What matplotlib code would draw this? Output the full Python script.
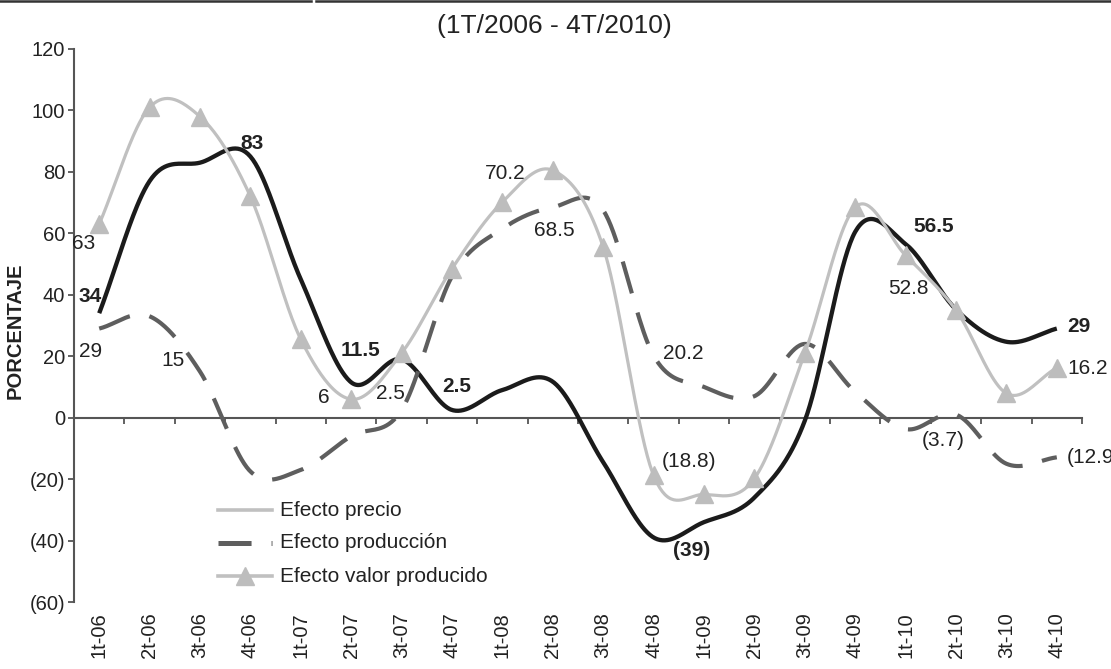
import numpy as np
import matplotlib
matplotlib.use("Agg")
import matplotlib.pyplot as plt
from matplotlib.lines import Line2D
from matplotlib.ticker import FuncFormatter, FixedLocator
from matplotlib.transforms import blended_transform_factory

plt.rcParams['font.family'] = ['Liberation Sans', 'DejaVu Sans']
plt.rcParams['lines.scale_dashes'] = False

# ---------------- data ----------------
categories = ['1t-06', '2t-06', '3t-06', '4t-06', '1t-07', '2t-07', '3t-07', '4t-07',
              '1t-08', '2t-08', '3t-08', '4t-08', '1t-09', '2t-09', '3t-09', '4t-09',
              '1t-10', '2t-10', '3t-10', '4t-10']
serie_negra = [34, 77, 83, 85, 45, 11.5, 19, 2.5, 9, 11.7, -14.5, -39, -34, -26,
               -1, 60.5, 56.5, 35.2, 24.7, 29]
efecto_produccion = [29, 33, 15, -17.5, -17, -6, 2.5, 46, 61.5, 68.5, 67.5, 20.2,
                     10, 7, 24, 8.4, -3.7, 1, -15, -12.9]
efecto_valor = [63, 101, 98, 72, 25.5, 6, 21, 48.5, 70.2, 80.5, 55.5, -18.8,
                -25, -19.8, 21, 68.5, 52.8, 35, 7.9, 16.2]
legend_names = ['Efecto precio', 'Efecto producción', 'Efecto valor producido']
title = '(1T/2006 - 4T/2010)'
ylabel = 'PORCENTAJE'

# data labels: (index, text)
labels_negra = [(0, '34'), (3, '83'), (5, '11.5'), (7, '2.5'), (11, '(39)'),
                (16, '56.5'), (19, '29')]
labels_prod = [(0, '29'), (2, '15'), (6, '2.5'), (9, '68.5'), (11, '20.2'),
               (16, '(3.7)'), (19, '(12.9)')]
labels_valor = [(0, '63'), (5, '6'), (8, '70.2'), (11, '(18.8)'), (16, '52.8'),
                (19, '16.2')]
# label offsets in pixels (dx, dy up) and horizontal alignment
off_negra = [(-9, 17, 'center'), (2, 13, 'center'), (9, 31.5, 'center'), (5, 23, 'center'),
             (38, -13, 'center'), (28, 18, 'center'), (10, 2, 'left')]
off_prod = [(-8.5, -23, 'center'), (-27, 11, 'center'), (-11.6, 16.5, 'center'),
            (2, -23, 'center'), (30, 2, 'center'), (38, -11, 'center'), (10, 0, 'left')]
off_valor = [(-16, -19, 'center'), (-27, 2, 'center'), (3, 28, 'center'),
             (35, 13.5, 'center'), (3, -33, 'center'), (11, -0.5, 'left')]


def smooth(y, n=40):
    """Catmull-Rom style smooth curve through the points (like Excel smoothed lines)."""
    y = np.asarray(y, float)
    N = len(y)
    m = np.empty(N)
    m[1:-1] = (y[2:] - y[:-2]) / 2.0
    m[0] = (y[1] - y[0])
    m[-1] = (y[-1] - y[-2])
    t = np.linspace(0, 1, n, endpoint=False)
    h00 = 2 * t**3 - 3 * t**2 + 1
    h10 = t**3 - 2 * t**2 + t
    h01 = -2 * t**3 + 3 * t**2
    h11 = t**3 - t**2
    xs, ys = [], []
    for i in range(N - 1):
        xs.append(i + t)
        ys.append(h00 * y[i] + h10 * m[i] + h01 * y[i + 1] + h11 * m[i + 1])
    xs.append(np.array([N - 1.0]))
    ys.append(np.array([y[-1]]))
    return np.concatenate(xs), np.concatenate(ys)


W, H = 1111, 669
fig = plt.figure(figsize=(W / 100, H / 100), dpi=100)
ax = fig.add_axes([74 / W, 1 - 602 / H, (1082 - 74) / W, (602 - 49) / H])

c_black = '#1b1b1b'
c_gray = '#c0c0c0'
c_dash = '#5e5e5e'
c_text = '#222222'

x = np.arange(len(categories))

xs, ys = smooth(serie_negra)
ax.plot(xs, ys, color=c_black, lw=3.1, solid_capstyle='butt', zorder=3)

xs, ys = smooth(efecto_produccion)
ax.plot(xs, ys, color=c_dash, lw=3.0, dashes=(23.8, 14.4), dash_capstyle='butt', zorder=4)

xs, ys = smooth(efecto_valor)
ax.plot(xs, ys, color=c_gray, lw=2.3, zorder=5)
ax.plot(x, efecto_valor, ls='none', marker='^', ms=12.5, color='#bdbdbd',
        markeredgecolor='#bdbdbd', zorder=6)

ax.set_xlim(-0.5, len(categories) - 0.5)
ax.set_ylim(-60, 120)

# axes styling
for s in ['top', 'right']:
    ax.spines[s].set_visible(False)
ax.spines['left'].set_color('#555555')
ax.spines['left'].set_linewidth(1.5)
ax.spines['bottom'].set_position(('data', 0))
ax.spines['bottom'].set_color('#555555')
ax.spines['bottom'].set_linewidth(1.5)

ax.yaxis.set_major_locator(FixedLocator(np.arange(-60, 121, 20)))
ax.yaxis.set_major_formatter(FuncFormatter(
    lambda v, p: f'({abs(int(v))})' if v < 0 else f'{int(v)}'))
ax.tick_params(axis='y', direction='out', length=4.3, width=1.3, color='#555555',
               labelsize=14.5, labelcolor=c_text, pad=2)
ax.xaxis.set_major_locator(FixedLocator(np.arange(-0.5, len(categories), 1.0)))
ax.tick_params(axis='x', direction='out', length=4.2, width=1.3, color='#555555',
               labelbottom=False)

# category labels at bottom
trans = blended_transform_factory(ax.transData, ax.transAxes)
for i, c in enumerate(categories):
    ax.annotate(c, xy=(i, 0), xycoords=trans, xytext=(0, -7.5), textcoords='offset points',
                rotation=90, ha='center', va='top', fontsize=14.5, color=c_text)

# data labels
def put_labels(series, labels, offs, bold):
    for (i, txt), (dx, dy, ha) in zip(labels, offs):
        ax.annotate(txt, xy=(i, series[i]), xytext=(dx * 0.72, dy * 0.72),
                    textcoords='offset points', ha=ha, va='center', fontsize=15,
                    fontweight='bold' if bold else 'normal', color=c_text,
                    annotation_clip=False, zorder=10)

put_labels(serie_negra, labels_negra, off_negra, True)
put_labels(efecto_produccion, labels_prod, off_prod, False)
put_labels(efecto_valor, labels_valor, off_valor, False)

# legend (drawn manually to match the reference)
def fx(px):
    return px / W

def fy(py):
    return 1 - py / H

rows = [510, 543, 576]
fig.add_artist(Line2D([fx(218), fx(272)], [fy(rows[0])] * 2, color=c_gray, lw=2.6))
fig.add_artist(Line2D([fx(218), fx(272)], [fy(rows[1])] * 2, color=c_dash, lw=3.6,
                      dashes=(23.8, 14.4), dash_capstyle='butt'))
fig.add_artist(Line2D([fx(218), fx(272)], [fy(rows[2])] * 2, color=c_gray, lw=2.6))
fig.add_artist(Line2D([fx(245)], [fy(rows[2])], ls='none', marker='^', ms=12.5,
                      color='#bdbdbd'))
for r, name in zip(rows, legend_names):
    fig.text(fx(280), fy(r), name, ha='left', va='center', fontsize=15, color=c_text)

# title, y label
fig.text(fx(554), fy(26), title, ha='center', va='center', fontsize=19, color=c_text)
fig.text(fx(15), fy(331), ylabel, rotation=90, ha='center', va='center',
         fontsize=14.5, fontweight='bold', color=c_text)

# top border line with a small gap
fig.add_artist(Line2D([0, fx(311)], [fy(1)] * 2, color='#333333', lw=1.8))
fig.add_artist(Line2D([fx(316), 1], [fy(1)] * 2, color='#333333', lw=1.8))

fig.savefig('out.png', dpi=100)
